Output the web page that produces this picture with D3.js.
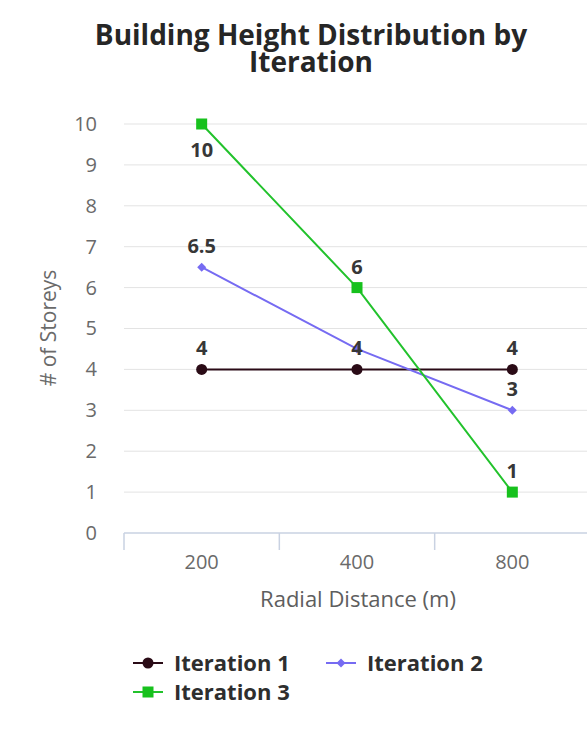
<!DOCTYPE html>
<html>
<head>
<meta charset="utf-8">
<script src="https://cdn.jsdelivr.net/npm/d3@7"></script>
<style>
  html, body { margin: 0; padding: 0; background: #ffffff; }
  svg { display: block; font-family: "Open Sans", sans-serif; }
</style>
</head>
<body>
<svg id="chart" width="587" height="732"></svg>
<script>
// Radial distance categories (m)
const categories = ["200", "400", "800"];
// Storey counts per iteration
const iteration1 = [4, 4, 4];
const iteration2 = [6.5, 4.5, 3];
const iteration3 = [10, 6, 1];
const seriesNames = ["Iteration 1", "Iteration 2", "Iteration 3"];
const yTicks = [0, 1, 2, 3, 4, 5, 6, 7, 8, 9, 10];
// Which points carry a value label, and where it sits relative to the point
const labelShown = [[true, true, true], [true, false, true], [true, true, true]];
const labelBelow = [[false, false, false], [false, false, false], [true, false, false]];

const colors = ["#2a0b16", "#766bf2", "#22c22c"];
const markerFill = ["#2a0b16", "#766bf2", "#17c11d"];
const markerType = ["circle", "diamond", "square"];

const svg = d3.select("#chart");

const x = d3.scaleBand().domain(categories).range([124, 590]);
const y = d3.scaleLinear().domain([0, 10]).range([533, 124]);
const cx = c => x(c) + x.bandwidth() / 2;

// Title
const title = svg.append("text")
  .attr("text-anchor", "middle")
  .attr("font-weight", 700)
  .attr("font-size", 28)
  .attr("fill", "#262626");
title.append("tspan").attr("x", 311).attr("y", 45).text("Building Height Distribution by");
title.append("tspan").attr("x", 311).attr("y", 72).text("Iteration");

// Horizontal grid
svg.append("g").selectAll("line")
  .data(yTicks.filter(t => t > 0))
  .join("line")
  .attr("x1", 124).attr("x2", 587)
  .attr("y1", d => y(d)).attr("y2", d => y(d))
  .attr("stroke", "#e3e3e3").attr("stroke-width", 1);

// Y axis labels
const yAxis = d3.axisLeft(y).tickValues(yTicks).tickSize(0).tickPadding(0).tickFormat(d3.format("d"));
const gy = svg.append("g").attr("transform", "translate(97,0)").call(yAxis);
gy.select(".domain").remove();
gy.selectAll("text")
  .attr("font-family", "Open Sans, sans-serif")
  .attr("font-size", 20)
  .attr("fill", "#6a6a6a");

// Y axis title
svg.append("text")
  .attr("transform", "translate(56,328) rotate(-90)")
  .attr("text-anchor", "middle")
  .attr("font-size", 21)
  .attr("fill", "#6a6a6a")
  .text("# of Storeys");

// X axis
const gx = svg.append("g").attr("transform", "translate(0,533)");
gx.append("line")
  .attr("x1", 124).attr("x2", 590)
  .attr("stroke", "#c9d2e2").attr("stroke-width", 1.5);
const boundaries = categories.map(c => x(c)).concat([x(categories[categories.length - 1]) + x.bandwidth()]);
gx.selectAll("line.tick")
  .data(boundaries)
  .join("line")
  .attr("class", "tick")
  .attr("x1", d => d).attr("x2", d => d)
  .attr("y1", 0).attr("y2", 17)
  .attr("stroke", "#c9d2e2").attr("stroke-width", 1.5);
gx.selectAll("text")
  .data(categories)
  .join("text")
  .attr("x", d => cx(d))
  .attr("y", 36)
  .attr("text-anchor", "middle")
  .attr("font-size", 20)
  .attr("fill", "#6a6a6a")
  .text(d => d);

// X axis title
svg.append("text")
  .attr("x", 358).attr("y", 607)
  .attr("text-anchor", "middle")
  .attr("font-size", 22)
  .attr("fill", "#5e5e5e")
  .text("Radial Distance (m)");

function drawMarker(g, type, px, py, fill) {
  if (type === "circle") {
    g.append("circle").attr("cx", px).attr("cy", py).attr("r", 5.5).attr("fill", fill);
  } else if (type === "diamond") {
    const r = 4.5;
    g.append("path")
      .attr("d", `M${px},${py - r}L${px + r},${py}L${px},${py + r}L${px - r},${py}Z`)
      .attr("fill", fill);
  } else {
    g.append("rect").attr("x", px - 5.5).attr("y", py - 5.5).attr("width", 11).attr("height", 11).attr("fill", fill);
  }
}

const allSeries = [iteration1, iteration2, iteration3];
const line = d3.line().x((d, i) => cx(categories[i])).y(d => y(d));

// Lines
allSeries.forEach((vals, s) => {
  svg.append("path")
    .datum(vals)
    .attr("d", line)
    .attr("fill", "none")
    .attr("stroke", colors[s])
    .attr("stroke-width", 2);
});

// Markers
allSeries.forEach((vals, s) => {
  const g = svg.append("g");
  vals.forEach((v, i) => drawMarker(g, markerType[s], cx(categories[i]), y(v), markerFill[s]));
});

// Value labels
allSeries.forEach((vals, s) => {
  vals.forEach((v, i) => {
    if (!labelShown[s][i]) return;
    svg.append("text")
      .attr("x", cx(categories[i]))
      .attr("y", labelBelow[s][i] ? y(v) + 33 : y(v) - 14)
      .attr("text-anchor", "middle")
      .attr("font-size", 20)
      .attr("font-weight", 700)
      .attr("fill", "#373737")
      .text(v);
  });
});

// Legend
const legendItems = [
  { x: 133, y: 663 },
  { x: 326, y: 663 },
  { x: 133, y: 692 }
];
legendItems.forEach((p, s) => {
  const g = svg.append("g");
  g.append("line")
    .attr("x1", p.x).attr("x2", p.x + 30)
    .attr("y1", p.y).attr("y2", p.y)
    .attr("stroke", colors[s]).attr("stroke-width", 2);
  drawMarker(g, markerType[s], p.x + 15, p.y, markerFill[s]);
  g.append("text")
    .attr("x", p.x + 41).attr("y", p.y + 8)
    .attr("font-size", 22)
    .attr("font-weight", 700)
    .attr("fill", "#2e2e2e")
    .text(seriesNames[s]);
});
</script>
</body>
</html>
